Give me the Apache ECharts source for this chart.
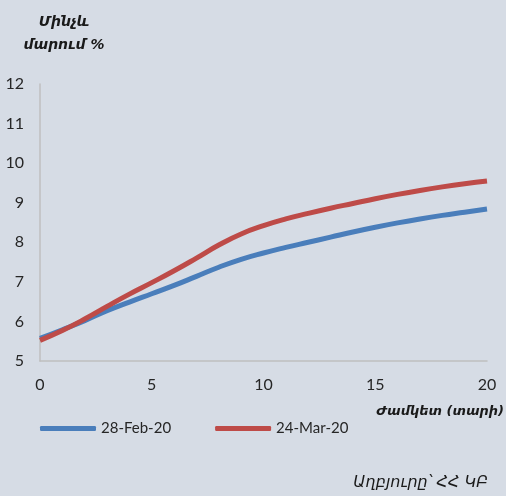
<!DOCTYPE html>
<html>
<head>
<meta charset="utf-8">
<script src="https://cdn.jsdelivr.net/npm/echarts@6/dist/echarts.min.js"></script>
<style>
  html, body { margin: 0; padding: 0; background: #D6DCE5; }
  #chart { width: 506px; height: 496px; }
</style>
</head>
<body>
<div id="chart"></div>
<script>
// Yield curve: maturity in years vs. yield to maturity (%)
const maturities = [0, 1, 2, 3, 4, 5, 6, 7, 8, 9, 10, 11, 12, 13, 14, 15, 16, 17, 18, 19, 20];
const curveFeb = [5.57, 5.79, 6.02, 6.27, 6.49, 6.7, 6.91, 7.14, 7.37, 7.57, 7.73, 7.87, 8.0, 8.13, 8.26, 8.38, 8.49, 8.59, 8.68, 8.76, 8.84];
const curveMar = [5.52, 5.77, 6.06, 6.38, 6.69, 6.98, 7.28, 7.6, 7.93, 8.21, 8.42, 8.59, 8.73, 8.86, 8.98, 9.1, 9.21, 9.31, 9.4, 9.48, 9.55];
const seriesNames = ['28-Feb-20', '24-Mar-20'];
const yTicks = { min: 5, max: 12, step: 1 };
const xTicks = { min: 0, max: 20, step: 5 };

const armFont = '"DejaVu Sans", sans-serif';
const numFont = 'Lato, "Open Sans", sans-serif';

const chart = echarts.init(document.getElementById('chart'), null, { renderer: 'canvas' });
const pairs = ys => maturities.map((m, i) => [m, ys[i]]);

chart.setOption({
  backgroundColor: '#D6DCE5',
  animation: false,
  grid: { left: 40, right: 19, top: 84, bottom: 135 },
  graphic: [
    {
      type: 'text', x: 64, y: 11,
      style: { text: 'Մինչև\nմարում %', font: 'italic bold 14px ' + armFont, fill: '#1a1a1a', align: 'center', lineHeight: 23 }
    },
    {
      type: 'text', x: 504, y: 405,
      style: { text: 'Ժամկետ (տարի)', font: 'italic bold 13px ' + armFont, fill: '#1a1a1a', align: 'right' }
    },
    {
      type: 'text', x: 488, y: 475,
      style: { text: 'Աղբյուրը՝ ՀՀ ԿԲ', font: 'italic 16px ' + armFont, fill: '#1a1a1a', align: 'right' }
    }
  ],
  legend: {
    left: 40, top: 421, padding: 0,
    itemWidth: 56, itemHeight: 5, itemGap: 44,
    icon: 'roundRect',
    textStyle: { fontFamily: numFont, fontSize: 15, color: '#262626' },
    data: seriesNames
  },
  xAxis: {
    type: 'value', min: xTicks.min, max: xTicks.max, interval: xTicks.step,
    axisLine: { show: true, lineStyle: { color: '#BFBFBF', width: 1.5 } },
    axisTick: { show: false },
    splitLine: { show: false },
    axisLabel: { margin: 16, fontFamily: numFont, fontSize: 16, color: '#262626' }
  },
  yAxis: {
    type: 'value', min: yTicks.min, max: yTicks.max, interval: yTicks.step,
    axisLine: { show: true, lineStyle: { color: '#BFBFBF', width: 1.5 } },
    axisTick: { show: false },
    splitLine: { show: false },
    axisLabel: { margin: 16, fontFamily: numFont, fontSize: 16, color: '#262626' }
  },
  series: [
    {
      name: seriesNames[0], type: 'line', smooth: true, showSymbol: false,
      data: pairs(curveFeb),
      lineStyle: { color: '#4A7EBB', width: 5 },
      itemStyle: { color: '#4A7EBB' }
    },
    {
      name: seriesNames[1], type: 'line', smooth: true, showSymbol: false,
      data: pairs(curveMar),
      lineStyle: { color: '#BE4B48', width: 5 },
      itemStyle: { color: '#BE4B48' }
    }
  ]
});
</script>
</body>
</html>
